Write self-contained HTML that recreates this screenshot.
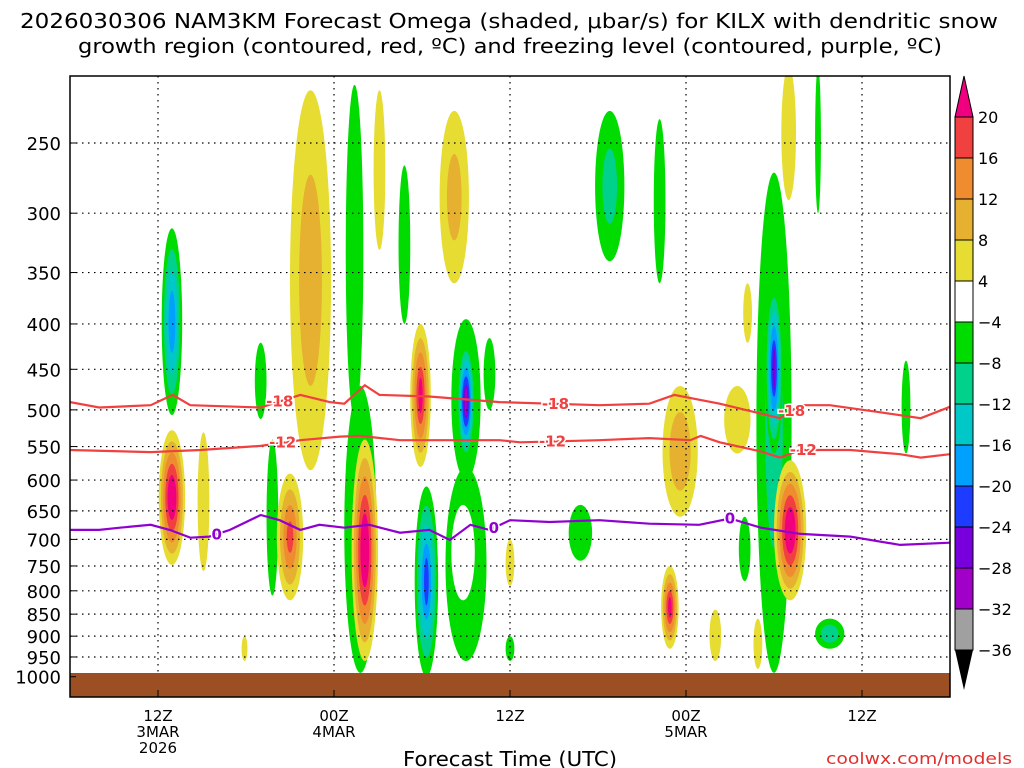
<!DOCTYPE html>
<html><head><meta charset="utf-8"><style>
body{margin:0;background:#fff;font-family:"DejaVu Sans","Liberation Sans",sans-serif;}
svg{display:block}
</style></head><body>
<svg id="chart" width="1024" height="768" viewBox="0 0 1024 768">
<text x="20" y="28" textLength="978" lengthAdjust="spacingAndGlyphs" font-size="20" fill="#000">2026030306 NAM3KM Forecast Omega (shaded, μbar/s) for KILX with dendritic snow</text>
<text x="78" y="53" textLength="864" lengthAdjust="spacingAndGlyphs" font-size="20" fill="#000">growth region (contoured, red, ºC) and freezing level (contoured, purple, ºC)</text>
<defs><clipPath id="plotclip"><rect x="70" y="76" width="880" height="621"/></clipPath></defs>
<g id="blobs" clip-path="url(#plotclip)"></g>
<rect x="70" y="673" width="880" height="24" fill="#9c4f22"/>
<g id="grid"></g>
<g id="contours" clip-path="url(#plotclip)"></g>
<g id="axes"></g>
<rect x="70" y="76" width="880" height="621" fill="none" stroke="#000" stroke-width="1.5"/>
<g id="cbar"></g>
<text x="403" y="766" textLength="214" lengthAdjust="spacingAndGlyphs" font-size="20" fill="#000">Forecast Time (UTC)</text>
<text x="826" y="764" textLength="186" lengthAdjust="spacingAndGlyphs" font-size="16" fill="#e03030">coolwx.com/models</text>
</svg>
<script>
const NS="http://www.w3.org/2000/svg";
const pressureTicks=[250,300,350,400,450,500,550,600,650,700,750,800,850,900,950,1000];
const timeTickHours=[6,18,30,42,54];
const timeTickLine1=["12Z","00Z","12Z","00Z","12Z"];
const timeTickLine2=["3MAR","4MAR","","5MAR",""];
const timeTickLine3=["2026","","","",""];
const blobHour=[6.95,6.95,9.1,13.0,13.8,15.0,16.4,19.4,19.8,20.1,21.1,22.8,23.9,24.3,26.2,27.0,26.8,27.0,27.0,28.6,30.0,30.0,34.8,36.8,40.2,41.6,40.9,44.0,46.0,46.2,45.5,48.0,48.0,49.1,49.0,51.0,51.8,57.0,46.9,11.9];
const blobPTop=[312,527,530,420,540,590,218,215,470,540,218,265,400,610,230,580,640,395,420,415,700,900,640,230,235,470,750,840,660,360,470,270,360,570,205,205,860,440,860,900];
const blobPBot=[507,748,760,512,810,820,585,510,990,960,330,400,580,1000,360,960,820,600,570,500,790,960,740,340,360,660,930,960,780,420,560,990,560,820,290,300,930,560,980,960];
const blobHalfW=[0.7,0.9,0.4,0.4,0.4,0.9,1.4,0.6,1.1,0.9,0.4,0.4,0.7,0.8,1.0,1.4,0.8,1.0,0.6,0.4,0.3,0.3,0.8,1.0,0.4,1.2,0.6,0.4,0.4,0.3,0.9,1.2,0.6,1.1,0.5,0.2,1.0,0.3,0.3,0.2];
const blobPeak=[-20,26,6,-6,-6,18,11,-8,-10,26,6,-6,22,-22,10,-8,0,-10,-30,-6,5,-6,-6,-10,-6,12,22,6,-8,5,6,-10,-26,26,8,-6,-12,-6,8,5];
const contourHours18=[0,2,5.5,7,8.2,13,15.7,17.7,18.7,20.1,21.1,24.5,29.3,36.1,39.5,41.2,44.3,48.4,49.8,51.8,55.2,58,60];
const contourP18=[490,497,494,481,494,497,481,490,492,469,481,483,490,494,492,481,492,511,494,494,503,511,496];
const contourHours12=[0,5.5,8.9,13,15.7,18.4,19.8,22.5,25.3,29.3,30.7,36.1,39.5,42.3,43,44.3,47.1,48.4,49.8,53.2,56.6,58,60];
const contourP12=[555,558,555,549,541,536,535,541,541,541,544,541,538,541,535,544,557,566,555,555,561,566,561];
const contourHours0=[0,2,3.4,5.5,6.8,8.2,9.5,10.9,13,14.3,15.7,17,18.7,20.4,22.5,24.5,25.9,27.3,28.6,30,32.7,36.1,39.5,42.9,45,47.1,49.8,53.2,56.6,60];
const contourP0=[683,683,679,674,683,697,695,683,657,666,683,674,679,674,688,683,701,674,683,666,669,666,672,674,663,679,690,695,710,706];
const cbarLabels=["20","16","12","8","4","−4","−8","−12","−16","−20","−24","−28","−32","−36"];
const cbarColors=["#f04040","#f08c30","#e6b030","#e6dc32","#ffffff","#00dc00","#00d28c","#00c8c8","#00a0ff","#1e3cff","#7800dc","#a000c8","#a0a0a0"];
const posThr=[4,8,12,16,20], posCol=["#e6dc32","#e6b030","#f08c30","#f04040","#f0007f"];
const negThr=[4,8,12,16,20,24,28,32], negCol=["#00dc00","#00d28c","#00c8c8","#00a0ff","#1e3cff","#7800dc","#a000c8","#a0a0a0"];

const X0=70,X1=950,H0=0,H1=60;
function xs(h){return X0+(h-H0)/(H1-H0)*(X1-X0);}
function ys(p){return 143+385*Math.log(p/250);}
function mk(tag,attrs,parent){const e=document.createElementNS(NS,tag);for(const k in attrs)e.setAttribute(k,attrs[k]);parent.appendChild(e);return e;}

const gB=document.getElementById('blobs');
for(let i=0;i<blobHour.length;i++){
  const v=blobPeak[i],m=Math.abs(v);
  const cx=xs(blobHour[i]), yt=ys(blobPTop[i]), yb=ys(blobPBot[i]);
  const cy=(yt+yb)/2, ry=(yb-yt)/2, rx=blobHalfW[i]*(X1-X0)/(H1-H0);
  if(v===0){
    const e=mk('ellipse',{cx:cx,cy:cy,rx:rx,ry:ry,fill:'#fff'},gB);
    
    
    continue;
  }
  const thr=v>0?posThr:negThr, col=v>0?posCol:negCol;
  for(let k=0;k<thr.length;k++){
    if(m<=thr[k])break;
    const f=1-(thr[k]-4)/(m-4+2);
    const e=mk('ellipse',{cx:cx,cy:cy,rx:rx*f,ry:ry*Math.max(f,0.25),fill:col[k]},gB);
    
    
  }
}
const gG=document.getElementById('grid');
pressureTicks.forEach(p=>{
  if(p<1000){const l=mk('line',{x1:X0,x2:X1,y1:ys(p),y2:ys(p),stroke:'#000','stroke-width':1.2,'stroke-dasharray':'1.5 4.5'},gG);
  }
});
timeTickHours.forEach(h=>{
  const l=mk('line',{x1:xs(h),x2:xs(h),y1:76,y2:673,stroke:'#000','stroke-width':1.2,'stroke-dasharray':'1.5 4.5'},gG);
  
});
const gA=document.getElementById('axes');
pressureTicks.forEach(p=>{
  const t=mk('text',{x:61,y:ys(p)+7,'text-anchor':'end','font-size':18,fill:'#000'},gA);t.textContent=p;
  
  mk('line',{x1:X0,x2:X0+6,y1:ys(p),y2:ys(p),stroke:'#000'},gA);
});
timeTickHours.forEach((h,i)=>{
  [timeTickLine1[i],timeTickLine2[i],timeTickLine3[i]].forEach((s,j)=>{
    if(!s)return;
    const t=mk('text',{x:xs(h),y:721+16*j,'text-anchor':'middle','font-size':15,fill:'#000'},gA);t.textContent=s;
    
  });
  mk('line',{x1:xs(h),x2:xs(h),y1:697,y2:690,stroke:'#000'},gA);
});
const gC=document.getElementById('contours');
function drawLine(hs,ps,color,name,labels,lab){
  const d=hs.map((h,i)=>(i?'L':'M')+xs(h).toFixed(1)+','+ys(ps[i]).toFixed(1)).join(' ');
  const p=mk('path',{d:d,fill:'none',stroke:color,'stroke-width':2.2},gC);
  
  labels.forEach(h=>{
    let k=0;while(k<hs.length-2&&hs[k+1]<h)k++;
    const pp=ps[k]+(ps[k+1]-ps[k])*(h-hs[k])/(hs[k+1]-hs[k]);
    const t=mk('text',{x:xs(h),y:ys(pp)+5,'text-anchor':'middle','font-size':15,'font-weight':'bold',fill:color,stroke:'#fff','stroke-width':3,'paint-order':'stroke'},gC);
    t.textContent=lab;
  });
}
drawLine(contourHours18,contourP18,'#f04040','contour-minus18',[14.3,33.1,49.2],'-18');
drawLine(contourHours12,contourP12,'#f04040','contour-minus12',[14.5,32.9,50.0],'-12');
drawLine(contourHours0,contourP0,'#9000d0','freezing-level',[10,28.9,45],'0');
const gK=document.getElementById('cbar');
const cbTop=117,cbH=41,cbx=955,cbw=18;
mk('path',{d:`M${cbx},${cbTop} L${cbx+cbw/2},76 L${cbx+cbw},${cbTop} Z`,fill:'#f0007f',stroke:'#000'},gK);
cbarColors.forEach((c,i)=>{
  const r=mk('rect',{x:cbx,y:cbTop+i*cbH,width:cbw,height:cbH,fill:c,stroke:'#000'},gK);
  
});
const cbBot=cbTop+cbarColors.length*cbH;
mk('path',{d:`M${cbx},${cbBot} L${cbx+cbw/2},690 L${cbx+cbw},${cbBot} Z`,fill:'#000'},gK);
cbarLabels.forEach((s,i)=>{
  const t=mk('text',{x:978,y:cbTop+i*cbH+6,'font-size':16,fill:'#000'},gK);t.textContent=s;
  
});
</script>
</body></html>
